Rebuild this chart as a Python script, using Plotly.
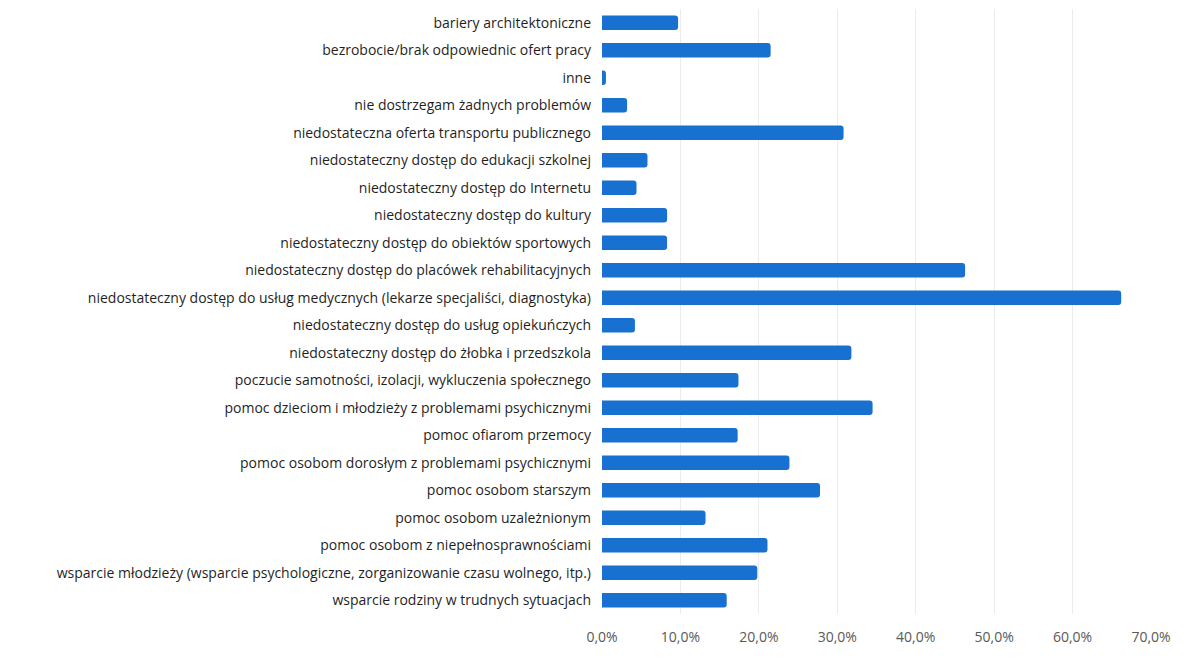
import plotly.graph_objects as go

# kategorie (kolejność od góry)
categories = [
    "bariery architektoniczne",
    "bezrobocie/brak odpowiednic ofert pracy",
    "inne",
    "nie dostrzegam żadnych problemów",
    "niedostateczna oferta transportu publicznego",
    "niedostateczny dostęp do edukacji szkolnej",
    "niedostateczny dostęp do Internetu",
    "niedostateczny dostęp do kultury",
    "niedostateczny dostęp do obiektów sportowych",
    "niedostateczny dostęp do placówek rehabilitacyjnych",
    "niedostateczny dostęp do usług medycznych (lekarze specjaliści, diagnostyka)",
    "niedostateczny dostęp do usług opiekuńczych",
    "niedostateczny dostęp do żłobka i przedszkola",
    "poczucie samotności, izolacji, wykluczenia społecznego",
    "pomoc dzieciom i młodzieży z problemami psychicznymi",
    "pomoc ofiarom przemocy",
    "pomoc osobom dorosłym z problemami psychicznymi",
    "pomoc osobom starszym",
    "pomoc osobom uzależnionym",
    "pomoc osobom z niepełnosprawnościami",
    "wsparcie młodzieży (wsparcie psychologiczne, zorganizowanie czasu wolnego, itp.)",
    "wsparcie rodziny w trudnych sytuacjach",
]

# udział odpowiedzi (%)
values = [9.7, 21.5, 0.5, 3.2, 30.8, 5.8, 4.4, 8.3, 8.3, 46.3, 66.2, 4.2,
          31.8, 17.4, 34.5, 17.3, 23.9, 27.8, 13.2, 21.1, 19.8, 15.9]

tick_vals = [0, 10, 20, 30, 40, 50, 60, 70]
tick_text = ["0,0%", "10,0%", "20,0%", "30,0%", "40,0%", "50,0%", "60,0%", "70,0%"]

fig = go.Figure(
    go.Bar(
        x=values,
        y=categories,
        orientation="h",
        marker=dict(color="#1870D0", line=dict(width=0)),
        hovertemplate="<b>%{y}</b><br>%{x:.1f}%<extra></extra>",
    )
)

# strona ma 8px marginesu, więc wykres jest o 16px mniejszy od okna
fig.update_layout(
    width=1187,
    height=647,
    margin=dict(l=594, r=44, t=1, b=41),
    paper_bgcolor="white",
    plot_bgcolor="white",
    bargap=0.47,
    barcornerradius=3,
    showlegend=False,
    font=dict(family="Open Sans", size=14, color="#1f1f1f"),
)

fig.update_xaxes(
    range=[0, 70],
    tickvals=tick_vals,
    ticktext=tick_text,
    showgrid=True,
    gridcolor="#ececec",
    gridwidth=1,
    zeroline=False,
    showline=False,
    tickfont=dict(family="Open Sans", size=14, color="#595959"),
    ticklabelstandoff=13,
)

fig.update_yaxes(
    autorange="reversed",
    showgrid=False,
    showline=False,
    tickfont=dict(family="Open Sans", size=14, color="#1f1f1f"),
    ticklabelstandoff=10,
)

fig.write_html("out.html")
